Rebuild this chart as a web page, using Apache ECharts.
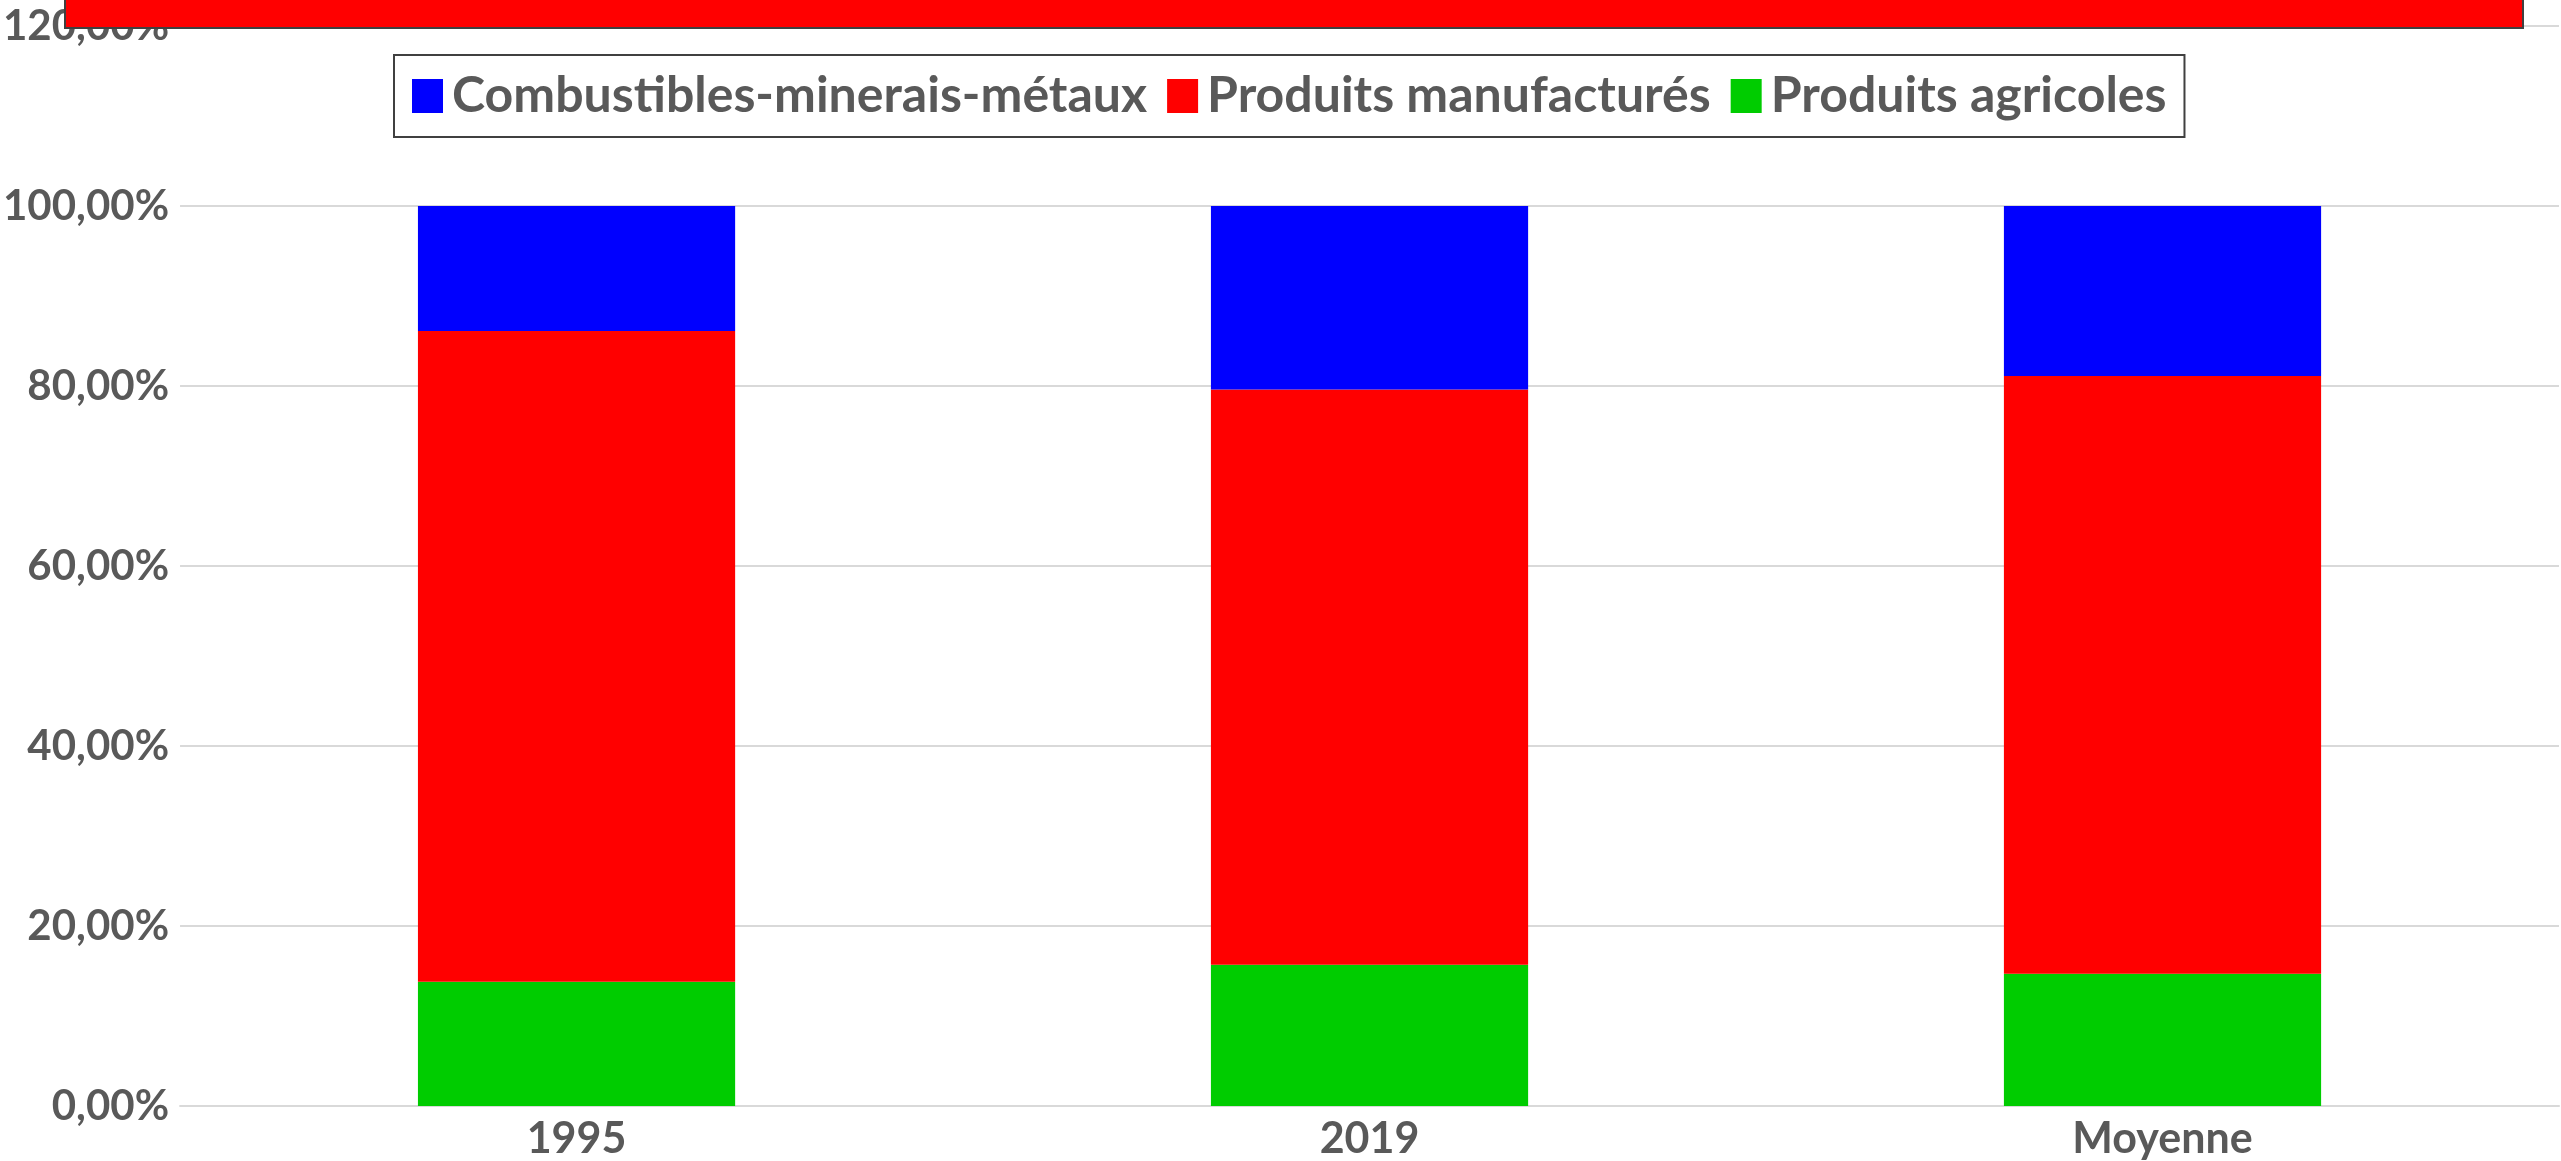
<!DOCTYPE html>
<html><head><meta charset="utf-8">
<script src="https://cdn.jsdelivr.net/npm/echarts@6/dist/echarts.min.js"></script>
<style>html,body{margin:0;padding:0;background:#fff}#c{width:2561px;height:1161px}</style>
</head><body><div id="c"></div>
<script>
const categories = ['1995', '2019', 'Moyenne'];
const agricoles = [13.8, 15.7, 14.7];
const manufactures = [72.3, 63.9, 66.4];
const combustibles = [13.9, 20.4, 18.9];
const yTicks = [0, 20, 40, 60, 80, 100, 120];
const seriesNames = ['Combustibles-minerais-métaux', 'Produits manufacturés', 'Produits agricoles'];

const chart = echarts.init(document.getElementById('c'));
const font = 'Lato';
chart.setOption({
  animation: false,
  backgroundColor: '#fff',
  grid: { left: 179, right: 2, top: 26, bottom: 53, containLabel: false },
  legend: {
    data: seriesNames,
    left: 394, top: 55,
    padding: [16, 18, 16, 18],
    borderColor: '#404040', borderWidth: 2,
    itemWidth: 31, itemHeight: 34, itemGap: 20,
    icon: 'rect',
    textStyle: { fontFamily: font, fontWeight: 'bold', fontSize: 50, color: '#595959', padding: [0, 0, 0, 4] }
  },
  xAxis: {
    type: 'category', data: categories,
    axisLine: { lineStyle: { color: '#d9d9d9', width: 2 } },
    axisTick: { show: false },
    axisLabel: { fontFamily: font, fontWeight: 'bold', fontSize: 43, color: '#595959', margin: 12 }
  },
  yAxis: {
    type: 'value', min: yTicks[0], max: yTicks[yTicks.length - 1], interval: 20,
    axisLine: { show: false }, axisTick: { show: false },
    splitLine: { lineStyle: { color: '#d9d9d9', width: 2 } },
    axisLabel: { fontFamily: font, fontWeight: 'bold', fontSize: 42, color: '#595959', margin: 11,
      formatter: v => v.toFixed(2).replace('.', ',') + '%' }
  },
  series: [
    { name: seriesNames[2], type: 'bar', stack: 't', data: agricoles, barWidth: '40%', itemStyle: { color: '#00cc00' } },
    { name: seriesNames[1], type: 'bar', stack: 't', data: manufactures, barWidth: '40%', itemStyle: { color: '#ff0000' } },
    { name: seriesNames[0], type: 'bar', stack: 't', data: combustibles, barWidth: '40%', itemStyle: { color: '#0000ff' } }
  ],
  graphic: [{
    type: 'rect', z: 100,
    shape: { x: 65, y: -5, width: 2458, height: 33 },
    style: { fill: '#ff0000', stroke: '#404040', lineWidth: 2 }
  }]
});
</script></body></html>
